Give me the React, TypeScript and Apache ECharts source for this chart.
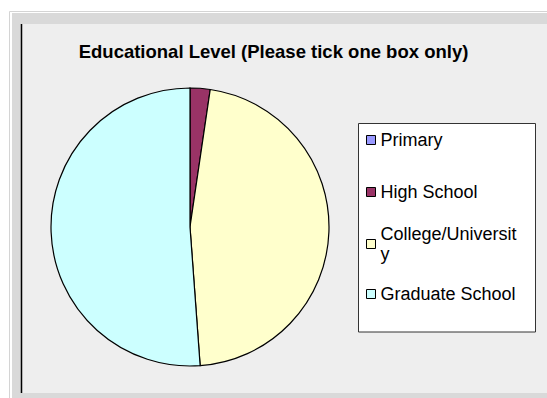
import React, { useEffect, useRef } from "react";
import * as echarts from "echarts";

const categories = ["Primary", "High School", "College/University", "Graduate School"];
const values = [0, 1, 20, 22];
const colors = ["#9999ff", "#993366", "#ffffcc", "#ccffff"];
const titleText = "Educational Level (Please tick one box only)";
const legendLabels = ["Primary", "High School", "College/Universit\ny", "Graduate School"];

const FONT = "'Liberation Sans', Arial, sans-serif";

export default function App() {
  const ref = useRef<HTMLDivElement>(null);
  useEffect(() => {
    if (!ref.current) return;
    const chart = echarts.init(ref.current, null, { renderer: "svg" });
    const legendTops = [130, 182, 214, 284];
    const legends = categories.map((name, i) => ({
      data: [name],
      orient: "vertical",
      left: 366,
      top: legendTops[i],
      padding: 0,
      icon: "rect",
      itemWidth: 9,
      itemHeight: 9,
      itemStyle: { borderColor: "#000", borderWidth: 1 },
      selectedMode: false,
      formatter: () => legendLabels[i],
      textStyle: {
        fontFamily: FONT,
        fontSize: 18,
        color: "#000",
        lineHeight: 20,
        padding: i === 2 ? [20, 0, 0, 0] : 0,
      },
    }));
    chart.setOption({
      animation: false,
      backgroundColor: "#ffffff",
      title: {
        text: titleText,
        left: "center",
        top: 36,
        textStyle: { fontFamily: FONT, fontSize: 18.5, fontWeight: "bold", color: "#000", lineHeight: 20 },
      },
      graphic: [
        { type: "rect", z: -10, shape: { x: 9.5, y: 11.5, width: 560, height: 420 }, style: { fill: "#ffffff", stroke: "#d4d4d4", lineWidth: 1 } },
        { type: "rect", z: -9, shape: { x: 12, y: 13, width: 560, height: 420 }, style: { fill: "#d9d9d9" } },
        { type: "rect", z: -8, shape: { x: 21, y: 24, width: 560, height: 369 }, style: { fill: "#eeeeee" } },
        { type: "line", z: -7, shape: { x1: 21.5, y1: 24, x2: 21.5, y2: 393 }, style: { stroke: "#000", lineWidth: 1.5 } },
        { type: "rect", z: -6, shape: { x: 358.5, y: 123.5, width: 177, height: 208.5 }, style: { fill: "#ffffff", stroke: "#333333", lineWidth: 1 } },
      ],
      legend: legends,
      series: [
        {
          type: "pie",
          center: [190, 227],
          radius: 139,
          startAngle: 90,
          clockwise: true,
          label: { show: false },
          labelLine: { show: false },
          emphasis: { disabled: true },
          itemStyle: { borderColor: "#000", borderWidth: 1.2 },
          data: categories.map((name, i) => ({ name, value: values[i], itemStyle: { color: colors[i] } })),
        },
      ],
    });
    return () => chart.dispose();
  }, []);
  return <div ref={ref} style={{ position: "fixed", left: 0, top: 0, width: 547, height: 398 }} />;
}
